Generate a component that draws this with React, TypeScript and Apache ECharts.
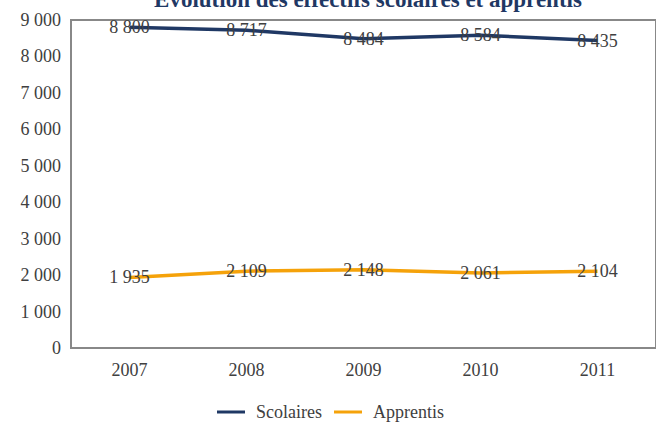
import React, { useEffect, useRef } from "react";
import * as echarts from "echarts";

const years = ["2007", "2008", "2009", "2010", "2011"];
const scolaires = [8800, 8717, 8484, 8584, 8435];
const apprentis = [1935, 2109, 2148, 2061, 2104];
const seriesNames = ["Scolaires", "Apprentis"];
const titleText = "Evolution des effectifs scolaires et apprentis";

const fmt = (v: number) => {
  const s = String(Math.round(v));
  return s.replace(/\B(?=(\d{3})+(?!\d))/g, " ");
};

const FONT = "'Liberation Serif', 'DejaVu Serif', serif";

export default function App() {
  const ref = useRef<HTMLDivElement>(null);
  useEffect(() => {
    if (!ref.current) return;
    const chart = echarts.init(ref.current, null, { renderer: "svg" });
    const labelCfg = {
      show: true,
      position: "inside",
      color: "#404040",
      fontFamily: FONT,
      fontSize: 18,
      formatter: (p: any) => fmt(p.value),
    };
    chart.setOption({
      animation: false,
      backgroundColor: "#ffffff",
      title: {
        text: titleText,
        left: 363,
        textAlign: "center",
        top: -17,
        textStyle: {
          color: "#1f3864",
          fontFamily: FONT,
          fontSize: 23,
          fontWeight: "bold",
        },
      },
      legend: {
        data: seriesNames,
        bottom: -4,
        left: 212,
        itemWidth: 28,
        itemHeight: 3,
        icon: "rect",
        itemGap: 12,
        textStyle: { color: "#404040", fontFamily: FONT, fontSize: 18, padding: [0, 0, 0, 6] },
      },
      grid: {
        left: 71,
        right: -3,
        top: 20,
        bottom: 74,
        show: true,
        borderColor: "#888888",
        borderWidth: 2,
      },
      xAxis: {
        type: "category",
        data: years,
        boundaryGap: true,
        axisLine: { show: true, lineStyle: { color: "#888888", width: 2 } },
        axisTick: { show: false },
        axisLabel: { color: "#404040", fontFamily: FONT, fontSize: 18, margin: 13 },
      },
      yAxis: {
        type: "value",
        min: 0,
        max: 9000,
        interval: 1000,
        splitLine: { show: false },
        axisLine: { show: true, lineStyle: { color: "#888888", width: 2 } },
        axisTick: { show: false },
        axisLabel: {
          color: "#404040",
          fontFamily: FONT,
          fontSize: 18,
          margin: 10,
          formatter: (v: number) => fmt(v),
        },
      },
      series: [
        {
          name: seriesNames[0],
          type: "line",
          data: scolaires,
          color: "#1f3864",
          symbol: "circle",
          symbolSize: 0,
          showSymbol: true,
          lineStyle: { width: 3.5, color: "#1f3864" },
          label: labelCfg,
        },
        {
          name: seriesNames[1],
          type: "line",
          data: apprentis,
          color: "#f5a20a",
          symbol: "circle",
          symbolSize: 0,
          showSymbol: true,
          lineStyle: { width: 3.5, color: "#f5a20a" },
          label: labelCfg,
        },
      ],
    });
    return () => chart.dispose();
  }, []);
  return (
    <div
      ref={ref}
      style={{ position: "fixed", left: 0, top: 0, width: 656, height: 422 }}
    />
  );
}
